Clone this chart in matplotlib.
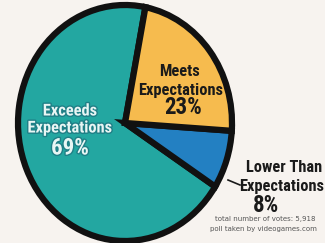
import matplotlib.pyplot as plt
import matplotlib.patheffects as pe

# poll results (counter-clockwise from the top divider)
labels = ['Exceeds Expectations', 'Lower Than Expectations', 'Meets Expectations']
shares = [69, 8, 23]
colors = ['#23a7a1', '#2380c2', '#f6bb4e']
total_votes = '5,918'
source = 'videogames.com'

W, H = 325, 243
fig = plt.figure(figsize=(W / 100, H / 100), dpi=100)
fig.patch.set_facecolor('#f7f3ef')
ax = fig.add_axes([0, 0, 1, 1])

ax.pie(shares, colors=colors, startangle=79, counterclock=True,
       wedgeprops=dict(edgecolor='#111111', linewidth=4.5))

# slightly taller than wide, like the photographed original
ax.set_aspect('auto')
rx, ry = 107, 118
cx, cy = 125, 123
ax.set_xlim(-cx / rx, (W - cx) / rx)
ax.set_ylim(-(H - cy) / ry, cy / ry)


def px(x, y):
    return x / W, 1 - y / H


narrow = ['Roboto Condensed', 'Roboto', 'DejaVu Sans']
dark = '#1a1a1a'
fs_word, fs_pct = 11.8, 16.5

# Meets
fig.text(*px(180, 72), 'Meets', ha='center', va='center', family=narrow,
         weight='bold', fontsize=fs_word, color=dark)
fig.text(*px(181, 90), 'Expectations', ha='center', va='center', family=narrow,
         weight='bold', fontsize=fs_word, color=dark)
fig.text(*px(183, 108), f'{shares[2]}%', ha='center', va='center', family=narrow,
         weight='bold', fontsize=fs_pct, color=dark)

# Exceeds
glow = [pe.withStroke(linewidth=2, foreground='#1f7f86')]
for txt, y, fs in [('Exceeds', 111, fs_word), ('Expectations', 128, fs_word),
                   (f'{shares[0]}%', 148, fs_pct)]:
    fig.text(*px(70, y), txt, ha='center', va='center', family=narrow,
             weight='bold', fontsize=fs, color='#e8f6f4', path_effects=glow)

# Lower Than
fig.text(*px(322, 168), 'Lower Than', ha='right', va='center', family=narrow,
         weight='bold', fontsize=fs_word, color=dark)
fig.text(*px(324, 186), 'Expectations', ha='right', va='center', family=narrow,
         weight='bold', fontsize=fs_word, color=dark)
fig.text(*px(266, 205), f'{shares[1]}%', ha='center', va='center', family=narrow,
         weight='bold', fontsize=fs_pct, color=dark)
fig.add_artist(plt.Line2D([228 / W, 240 / W], [1 - 180 / H, 1 - 185 / H],
                          color=dark, linewidth=1.2))

# footer
fig.text(*px(265, 219), f'total number of votes: {total_votes}', ha='center',
         va='center', fontsize=5, color='#555555')
fig.text(*px(263, 229), f'poll taken by {source}', ha='center',
         va='center', fontsize=5, color='#555555')

fig.savefig('out.png', dpi=100, facecolor=fig.get_facecolor())
